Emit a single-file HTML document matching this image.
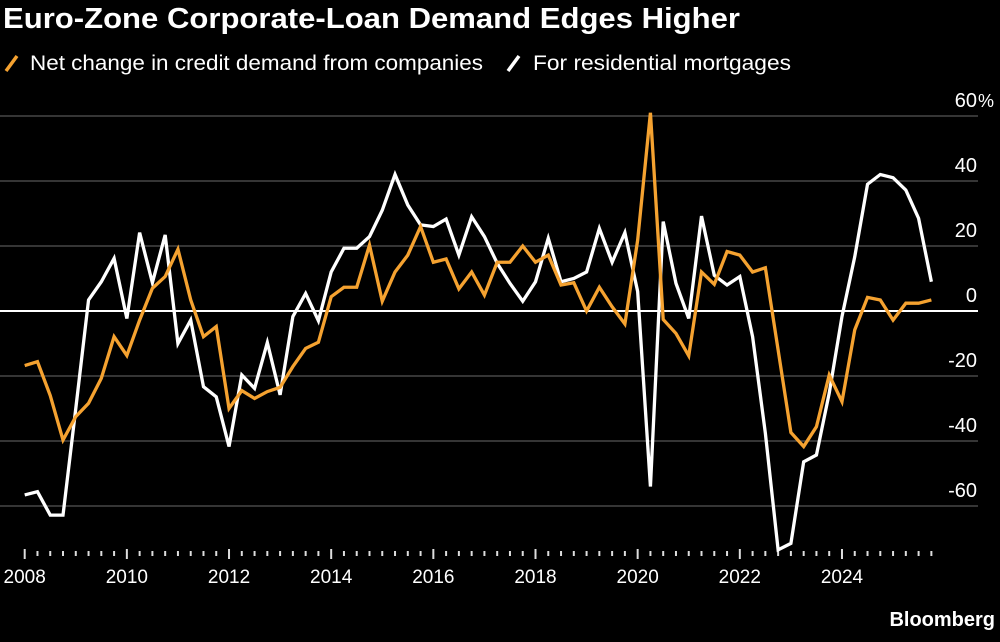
<!DOCTYPE html>
<html><head><meta charset="utf-8"><style>
body{margin:0;background:#000;width:1000px;height:637px;overflow:hidden;font-family:"Liberation Sans",sans-serif;color:#fff}
</style></head><body>
<svg width="1000" height="637" id="svg">
<text x="3" y="28" font-size="29" font-weight="bold" fill="#fff" textLength="737" lengthAdjust="spacingAndGlyphs">Euro-Zone Corporate-Loan Demand Edges Higher</text>
<g>
<line x1="6" y1="71" x2="17" y2="56" stroke="#f5a230" stroke-width="3.5"/>
<text x="30" y="70" font-size="21" fill="#fff" textLength="453" lengthAdjust="spacingAndGlyphs">Net change in credit demand from companies</text>
<line x1="508" y1="71" x2="519" y2="56" stroke="#fff" stroke-width="3.5"/>
<text x="533" y="70" font-size="21" fill="#fff" textLength="258" lengthAdjust="spacingAndGlyphs">For residential mortgages</text>
</g>
<g id="grid"></g><g id="xaxis"></g><g id="series"></g>
<text x="995" y="626" font-size="20" font-weight="bold" fill="#fff" text-anchor="end">Bloomberg</text>
</svg>
<script>
const yTicks=[60,40,20,0,-20,-40,-60];
const yearLabels=[2008,2010,2012,2014,2016,2018,2020,2022,2024];
const companies=[-16.8,-15.6,-26,-39.7,-32.5,-28.4,-20.7,-7.9,-13.7,-2.8,7,10.6,19,3.4,-7.9,-4.8,-30,-24.5,-26.9,-24.8,-23.5,-17.1,-11.5,-9.6,4.4,7.3,7.3,20.3,3,12,17.2,26,15,16,6.8,12,4.9,15,15,20,15,17.2,8,8.7,0,7.3,1.3,-4,21.8,61,-2.6,-6.9,-13.8,12,8.2,18.3,17.2,12,13.3,-12,-37.4,-41.7,-35.6,-19.7,-27.9,-5.8,4.2,3.4,-2.8,2.4,2.4,3.4];
const mortgages=[-56.6,-55.6,-62.8,-62.8,-30,3.4,9,16.2,-2.3,24.1,8.7,23.4,-10,-2.8,-23.3,-26.4,-41.7,-19.7,-23.8,-9.7,-25.8,-1.7,5.4,-3,12,19.3,19.3,22.9,31,42,32.6,26.5,26,28.3,17.2,29,22.9,14.7,8.5,3,9,22.4,9,10,12,25.4,15,24.1,6,-54,27.5,8.5,-2.3,29.2,11,8,10.6,-7.9,-37.6,-73.5,-71.5,-46.4,-44.3,-25.3,-1.7,16.7,39,42,41,37.2,28.5,9];
const NS="http://www.w3.org/2000/svg";
const y=v=>311-v*3.25;
const x=i=>24.7+i*12.77;
function mk(t,a,p){const e=document.createElementNS(NS,t);for(const k in a)e.setAttribute(k,a[k]);p.appendChild(e);return e;}
const grid=document.getElementById('grid'),xa=document.getElementById('xaxis'),se=document.getElementById('series');
yTicks.forEach(v=>{
 const l=mk('line',{x1:0,x2:978,y1:y(v),y2:y(v),stroke:v===0?'#fff':'#555','stroke-width':v===0?2:1.2},grid);
 
 
 const t=mk('text',{x:977,y:y(v)-9,'font-size':20,fill:'#fff','text-anchor':'end'},grid);
 t.textContent=String(v);
 
 
 if(v===60){
  const p=mk('text',{x:978,y:y(v)-9,'font-size':18,fill:'#fff'},grid);
  p.textContent='%';
  
  
 }
});
for(let i=0;i<companies.length;i++){
 const major=i%8===0;
 const l=mk('line',{x1:x(i),x2:x(i),y1:major?549:551,y2:major?559:556,stroke:'#ddd','stroke-width':2},xa);
 
 
}
yearLabels.forEach(yr=>{
 const t=mk('text',{x:x((yr-2008)*4),y:583,'font-size':19,fill:'#fff','text-anchor':'middle'},xa);
 t.textContent=yr;
 
 
});
function line(d,c,n){
 const p=mk('polyline',{points:d.map((v,i)=>x(i)+','+y(v)).join(' '),fill:'none',stroke:c,'stroke-width':3.3,'stroke-linejoin':'miter'},se);
 
 
}
line(mortgages,'#fff','line-mortgages');
line(companies,'#f5a230','line-companies');
</script>
</body></html>
